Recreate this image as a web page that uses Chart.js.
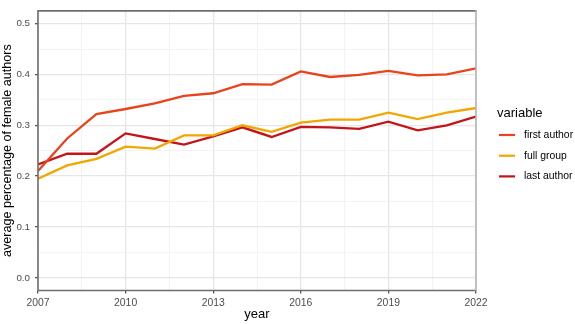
<!DOCTYPE html>
<html>
<head>
<meta charset="utf-8">
<script src="https://cdn.jsdelivr.net/npm/chart.js@4"></script>
<style>
  html, body { margin: 0; padding: 0; background: #fff; }
  #wrap { width: 575px; height: 324px; position: relative; }
</style>
</head>
<body>
<div id="wrap"><canvas id="chart"></canvas></div>
<script>
const years = [2007, 2008, 2009, 2010, 2011, 2012, 2013, 2014, 2015, 2016, 2017, 2018, 2019, 2020, 2021, 2022];
const firstAuthor = [0.210, 0.274, 0.322, 0.332, 0.343, 0.358, 0.363, 0.381, 0.380, 0.406, 0.395, 0.399, 0.407, 0.398, 0.400, 0.412];
const fullGroup = [0.195, 0.221, 0.234, 0.258, 0.254, 0.280, 0.280, 0.300, 0.287, 0.305, 0.311, 0.311, 0.325, 0.312, 0.325, 0.334];
const lastAuthor = [0.223, 0.244, 0.244, 0.284, 0.273, 0.262, 0.278, 0.296, 0.277, 0.297, 0.296, 0.293, 0.307, 0.290, 0.300, 0.317];

const seriesNames = ['first author', 'full group', 'last author'];
const seriesColors = ['#E8431B', '#F2A600', '#C3141A'];

const xMajorTicks = [2007, 2010, 2013, 2016, 2019, 2022];
const xMinorTicks = [2008.5, 2011.5, 2014.5, 2017.5, 2020.5];
const yMajorTicks = [0.0, 0.1, 0.2, 0.3, 0.4, 0.5];
const yMinorTicks = [0.05, 0.15, 0.25, 0.35, 0.45];

const font = "'Liberation Sans', Arial, Helvetica, sans-serif";

function toPoints(values) {
  return years.map((y, i) => ({ x: y, y: values[i] }));
}

function isMajor(list, v) {
  return list.some(m => Math.abs(m - v) < 1e-6);
}

// ggplot-like frame: dark left/top/bottom, lighter right edge
const framePlugin = {
  id: 'frame',
  afterDatasetsDraw(chart) {
    const { ctx, chartArea: a } = chart;
    ctx.save();
    ctx.lineCap = 'square';
    ctx.strokeStyle = '#6E6E6E';
    ctx.lineWidth = 1.6;
    ctx.beginPath();
    ctx.moveTo(a.right, a.top);
    ctx.lineTo(a.left, a.top);
    ctx.lineTo(a.left, a.bottom);
    ctx.lineTo(a.right, a.bottom);
    ctx.stroke();
    ctx.strokeStyle = '#B4B4B4';
    ctx.beginPath();
    ctx.moveTo(a.right, a.top);
    ctx.lineTo(a.right, a.bottom);
    ctx.stroke();
    ctx.restore();
  }
};

const legendPlugin = {
  id: 'sideLegend',
  afterDraw(chart) {
    const { ctx } = chart;
    ctx.save();
    ctx.fillStyle = '#000';
    ctx.font = '13px ' + font;
    ctx.textBaseline = 'middle';
    ctx.fillText('variable', 497, 113);
    ctx.font = '10.4px ' + font;
    chart.data.datasets.forEach((ds, i) => {
      const y = 135 + i * 20.7;
      ctx.strokeStyle = ds.borderColor;
      ctx.lineWidth = 2.2;
      ctx.beginPath();
      ctx.moveTo(499, y);
      ctx.lineTo(515, y);
      ctx.stroke();
      ctx.fillStyle = '#000';
      ctx.fillText(ds.label, 524, y);
    });
    ctx.restore();
  }
};

new Chart(document.getElementById('chart'), {
  type: 'line',
  data: {
    datasets: [
      { label: seriesNames[0], data: toPoints(firstAuthor), borderColor: seriesColors[0] },
      { label: seriesNames[1], data: toPoints(fullGroup), borderColor: seriesColors[1] },
      { label: seriesNames[2], data: toPoints(lastAuthor), borderColor: seriesColors[2] }
    ]
  },
  options: {
    responsive: true,
    maintainAspectRatio: false,
    animation: false,
    devicePixelRatio: 1,
    layout: { padding: { top: 2, right: 99, left: 0, bottom: 0 } },
    elements: {
      line: { borderWidth: 2.3, tension: 0, fill: false },
      point: { radius: 0, hoverRadius: 0 }
    },
    plugins: {
      legend: { display: false },
      tooltip: { enabled: false }
    },
    scales: {
      x: {
        type: 'linear',
        min: 2007,
        max: 2022,
        afterBuildTicks: scale => {
          scale.ticks = xMajorTicks.concat(xMinorTicks).sort((a, b) => a - b).map(v => ({ value: v }));
        },
        afterFit: scale => { scale.height = 33.5; },
        border: { display: false },
        grid: {
          color: c => isMajor(xMajorTicks, c.tick.value) ? '#E6E6E6' : '#F0F0F0',
          lineWidth: c => isMajor(xMajorTicks, c.tick.value) ? 1.3 : 0.8,
          tickColor: c => isMajor(xMajorTicks, c.tick.value) ? '#555' : 'rgba(0,0,0,0)',
          tickLength: 3,
          drawTicks: true
        },
        ticks: {
          autoSkip: false,
          maxRotation: 0,
          padding: 3,
          color: '#4D4D4D',
          font: { family: font, size: 10.4 },
          callback: v => isMajor(xMajorTicks, v) ? String(v) : ''
        },
        title: {
          display: true,
          text: 'year',
          color: '#000',
          font: { family: font, size: 13 },
          padding: { top: 0, bottom: 2 }
        }
      },
      y: {
        type: 'linear',
        min: -0.025,
        max: 0.525,
        afterBuildTicks: scale => {
          scale.ticks = yMajorTicks.concat(yMinorTicks).sort((a, b) => a - b).map(v => ({ value: v }));
        },
        afterFit: scale => { scale.width = 38; },
        border: { display: false },
        grid: {
          color: c => isMajor(yMajorTicks, c.tick.value) ? '#E6E6E6' : '#F0F0F0',
          lineWidth: c => isMajor(yMajorTicks, c.tick.value) ? 1.3 : 0.8,
          tickColor: c => isMajor(yMajorTicks, c.tick.value) ? '#555' : 'rgba(0,0,0,0)',
          tickLength: 3,
          drawTicks: true
        },
        ticks: {
          autoSkip: false,
          padding: 5,
          color: '#4D4D4D',
          font: { family: font, size: 9.8 },
          callback: v => isMajor(yMajorTicks, v) ? v.toFixed(1) : ''
        },
        title: {
          display: true,
          text: 'average percentage of female authors',
          color: '#000',
          font: { family: font, size: 12.6 },
          padding: { top: 0, bottom: 0 }
        }
      }
    }
  },
  plugins: [framePlugin, legendPlugin]
});
</script>
</body>
</html>
